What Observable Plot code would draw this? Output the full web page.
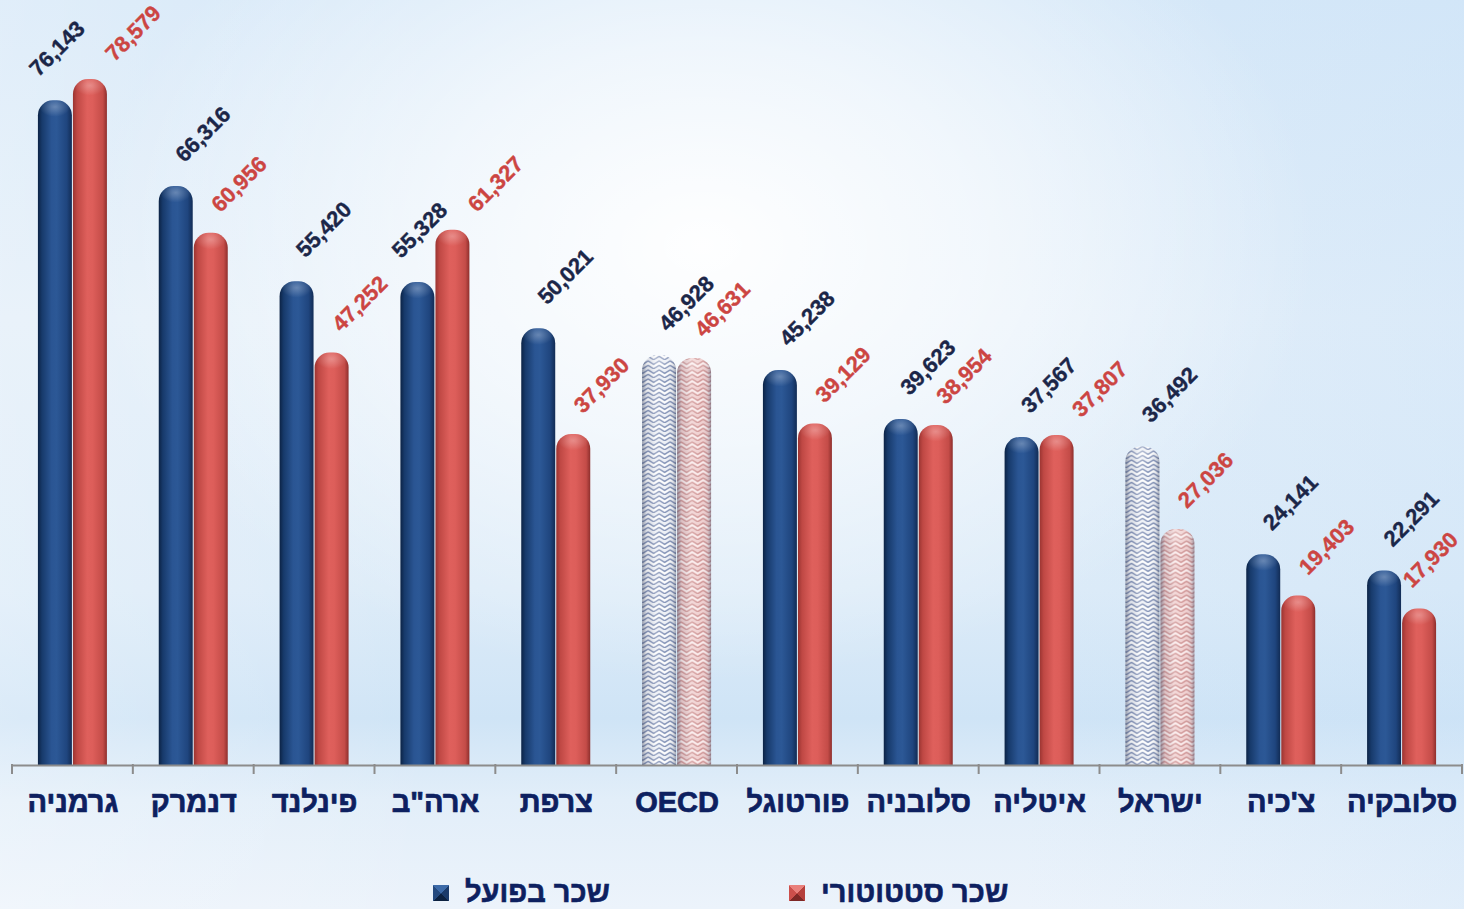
<!DOCTYPE html>
<html lang="he">
<head>
<meta charset="utf-8">
<script src="https://cdn.jsdelivr.net/npm/d3@7"></script>
<script src="https://cdn.jsdelivr.net/npm/@observablehq/plot@0.6"></script>
<style>
  html, body { margin: 0; padding: 0; }
  #wrap {
    position: relative; width: 1464px; height: 909px; overflow: hidden;
    font-family: "Liberation Sans", Arial, sans-serif;
    background:
      radial-gradient(ellipse 42% 48% at 48% 27%, rgba(255,255,255,0.97) 0%, rgba(255,255,255,0.6) 45%, rgba(255,255,255,0) 100%),
      linear-gradient(to right, rgba(255,255,255,0.25) 0%, rgba(255,255,255,0) 30%, rgba(255,255,255,0) 70%, rgba(200,225,248,0.3) 100%),
      linear-gradient(to bottom, #d6e8f8 0%, #e2eef9 35%, #dcebf8 65%, #cfe4f6 79%, #e2eef9 88%, #ecf3fb 100%);
  }
  #chart { position: absolute; left: 0; top: 0; }
  .legend-item { position: absolute; top: 876px; display: flex; align-items: center; gap: 16px;
    font-size: 29px; font-weight: bold; color: #0d2060; white-space: nowrap;
    -webkit-text-stroke: 0.6px #0d2060; }
  .marker { width: 16px; height: 16px; display: inline-block; }
</style>
</head>
<body>
<div id="wrap">
  <div id="chart"></div>
  <div class="legend-item" style="left:433px"><span class="marker" id="m0"></span><span id="l0"></span></div>
  <div class="legend-item" style="left:789px"><span class="marker" id="m1"></span><span id="l1"></span></div>
</div>
<script>
// ---- data ----
const categories = ["גרמניה", "דנמרק", "פינלנד", "ארה\"ב", "צרפת", "OECD", "פורטוגל", "סלובניה", "איטליה", "ישראל", "צ'כיה", "סלובקיה"];
const actualWage = [76143, 66316, 55420, 55328, 50021, 46928, 45238, 39623, 37567, 36492, 24141, 22291];
const statutoryWage = [78579, 60956, 47252, 61327, 37930, 46631, 39129, 38954, 37807, 27036, 19403, 17930];
const seriesNames = ["שכר בפועל", "שכר סטטוטורי"];
const patternedCategories = ["OECD", "ישראל"];

const rows = categories.flatMap((c, i) => [
  {category: c, series: seriesNames[0], value: actualWage[i], other: statutoryWage[i]},
  {category: c, series: seriesNames[1], value: statutoryWage[i], other: actualWage[i]}
]);
const isPat = d => patternedCategories.includes(d.category);
const fmt = d3.format(",");
const blueRows = rows.filter(d => d.series === seriesNames[0]);
const redRows = rows.filter(d => d.series === seriesNames[1]);
// label collision rules: when the neighbouring red bar is clearly taller, the labels are spread apart
const blueCrowded = d => d.other > d.value * 1.02;
const redCrowded = d => d.value > d.other * 0.995;

// ---- defs (gradients & patterns) ----
function defsMark() {
  const defs = d3.create("svg:defs");
  function grad(id, stops) {
    const g = defs.append("linearGradient").attr("id", id).attr("x1", 0).attr("x2", 1).attr("y1", 0).attr("y2", 0);
    stops.forEach(([o, c, op]) => g.append("stop").attr("offset", o).attr("stop-color", c).attr("stop-opacity", op ?? 1));
  }
  grad("gBlue", [[0, "#0c2345"], [0.12, "#173a6b"], [0.4, "#2a5593"], [0.55, "#2c5896"], [0.85, "#1f457e"], [1, "#122c55"]]);
  grad("gRed", [[0, "#9a3431"], [0.12, "#bf4844"], [0.42, "#df605c"], [0.58, "#dd5e5a"], [0.88, "#c44c48"], [1, "#8e2f2d"]]);
  grad("gShade", [[0, "#3c4660", 0.5], [0.14, "#3c4660", 0.1], [0.4, "#ffffff", 0.2], [0.7, "#ffffff", 0], [0.9, "#3c4660", 0.12], [1, "#3c4660", 0.45]]);
  const rg = defs.append("radialGradient").attr("id", "gTop").attr("cx", 0.5).attr("cy", 0.3).attr("r", 0.45);
  rg.append("stop").attr("offset", 0).attr("stop-color", "#ffffff").attr("stop-opacity", 0.28);
  rg.append("stop").attr("offset", 1).attr("stop-color", "#ffffff").attr("stop-opacity", 0);

  function pat(id, base, line, light) {
    const p = defs.append("pattern").attr("id", id).attr("patternUnits", "userSpaceOnUse")
      .attr("width", 11).attr("height", 9);
    p.append("rect").attr("width", 11).attr("height", 9).attr("fill", base);
    p.append("path").attr("d", "M0,0.8 L5.5,4.3 L11,0.8 M0,5.3 L5.5,8.8 L11,5.3").attr("fill", "none")
      .attr("stroke", line).attr("stroke-width", 1.4);
    p.append("path").attr("d", "M0,3 L5.5,6.5 L11,3").attr("fill", "none")
      .attr("stroke", light).attr("stroke-width", 1.2);
  }
  pat("pBlue", "#edf0f6", "#8594b8", "#ffffff");
  pat("pRed", "#f0d0d0", "#d29a9a", "#fbeeee");
  return defs.node();
}

const barBase = {fx: "category", x: "series", y: "value", rx: 15, insetBottom: -20, clip: true};
const labelStyle = {fx: "category", x: "series", y: "value", text: d => fmt(d.value), rotate: -45,
  fontSize: 22, fontWeight: "bold", textAnchor: "middle", className: "vlabel", strokeWidth: 0.4};

const chart = Plot.plot({
  width: 1464,
  height: 862,
  marginLeft: 12,
  marginRight: 2,
  marginTop: 20,
  marginBottom: 97,
  style: {background: "transparent", fontFamily: "'Liberation Sans', Arial, sans-serif", overflow: "visible"},
  fx: {domain: categories, padding: 0, round: false, axis: null, label: null},
  x: {domain: seriesNames, paddingInner: 0.03, paddingOuter: 0.74, round: false, axis: null},
  y: {domain: [0, 85340], axis: null},
  marks: [
    defsMark,
    Plot.barY(rows.filter(d => !isPat(d) && d.series === seriesNames[0]), {...barBase, fill: "url(#gBlue)"}),
    Plot.barY(rows.filter(d => !isPat(d) && d.series === seriesNames[1]), {...barBase, fill: "url(#gRed)"}),
    Plot.barY(rows.filter(d => isPat(d) && d.series === seriesNames[0]), {...barBase, fill: "url(#pBlue)"}),
    Plot.barY(rows.filter(d => isPat(d) && d.series === seriesNames[1]), {...barBase, fill: "url(#pRed)"}),
    Plot.barY(rows.filter(d => isPat(d)), {...barBase, fill: "url(#gShade)"}),
    // small highlight on the rounded cap
    Plot.barY(rows, {fx: "category", x: "series", y1: "value", y2: "value", insetBottom: -22, rx: 15, fill: "url(#gTop)"}),
    Plot.ruleY([0], {stroke: "#8c8c8c", strokeWidth: 2}),
    Plot.text(blueRows.filter(d => !blueCrowded(d)), {...labelStyle, dx: 27, dy: -52, fill: "#1b2648", stroke: "#1b2648"}),
    Plot.text(blueRows.filter(blueCrowded), {...labelStyle, dx: 2, dy: -52, fill: "#1b2648", stroke: "#1b2648"}),
    Plot.text(redRows.filter(d => !redCrowded(d)), {...labelStyle, dx: 28, dy: -49, fill: "#cc4542", stroke: "#cc4542"}),
    Plot.text(redRows.filter(redCrowded), {...labelStyle, dx: 43, dy: -46, fill: "#cc4542", stroke: "#cc4542"}),
    Plot.text(categories, {
      fx: d => d, text: d => d, frameAnchor: "bottom", lineAnchor: "middle", dy: 37,
      fontSize: 29, fontWeight: "bold", fill: "#0d2060", stroke: "#0d2060", strokeWidth: 0.7
    })
  ]
});
document.getElementById("chart").append(chart);

// boundary ticks below the axis line, positioned via the fx scale
const fxs = chart.scale("fx");
const ys = chart.scale("y");
const y0 = ys.apply(0);
const bounds = categories.map(c => fxs.apply(c)).concat([fxs.apply(categories[categories.length - 1]) + fxs.bandwidth]);
d3.select(chart).append("g").selectAll("line").data(bounds).join("line")
  .attr("x1", d => d).attr("x2", d => d).attr("y1", y0 - 1).attr("y2", y0 + 9)
  .attr("stroke", "#8c8c8c").attr("stroke-width", 2);

// keep value labels inside the chart's right edge
const svgBox = chart.getBoundingClientRect();
chart.querySelectorAll(".vlabel text").forEach(t => {
  const b = t.getBoundingClientRect();
  const over = b.right - (svgBox.left + 1463);
  if (over > 0) {
    t.setAttribute("transform", `translate(${-over},0) ` + (t.getAttribute("transform") || ""));
  }
});

// legend
document.getElementById("l0").textContent = seriesNames[0];
document.getElementById("l1").textContent = seriesNames[1];
document.getElementById("m0").style.background =
  "conic-gradient(from -45deg, #3c6aa8 0 90deg, #1a3a6a 90deg 180deg, #0c2140 180deg 270deg, #24497e 270deg 360deg)";
document.getElementById("m1").style.background =
  "conic-gradient(from -45deg, #e9807c 0 90deg, #b5403c 90deg 180deg, #7e2826 180deg 270deg, #cc4f4b 270deg 360deg)";
</script>
</body>
</html>
